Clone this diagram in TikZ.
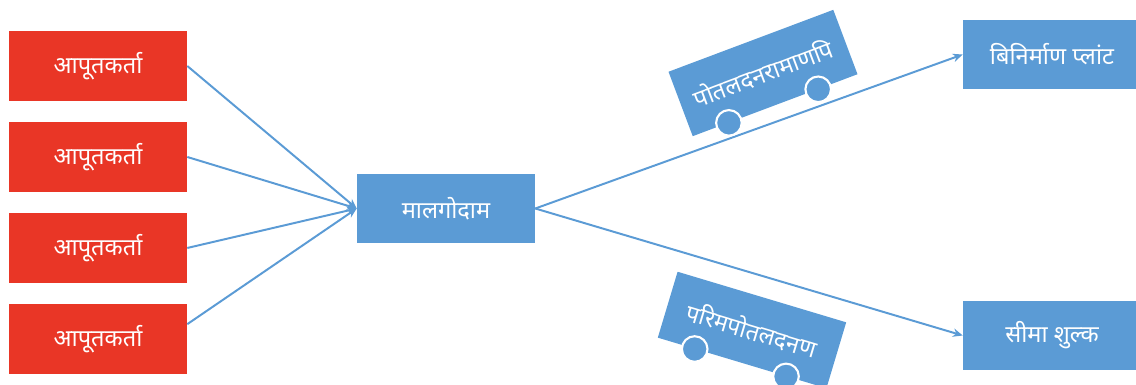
\documentclass[tikz,border=0pt]{standalone}
\usepackage{fontspec}
\newfontfamily\deva[Script=Devanagari]{Noto Sans}
\usetikzlibrary{positioning, calc, arrows.meta}
\definecolor{suppred}{RGB}{233,54,38}
\definecolor{flowblue}{RGB}{91,155,213}
\tikzset{
	supplier/.style={rectangle, fill=suppred, text=white, minimum width=4.45cm, minimum height=1.74cm, inner sep=0pt, font=\deva\fontsize{16.8}{20}\selectfont},
	depot/.style={supplier, fill=flowblue},
	truck/.style={depot, minimum width=4.4cm, minimum height=1.72cm},
	wheel/.style={circle, fill=flowblue, draw=white, line width=1.5pt, minimum size=0.64cm, inner sep=0pt},
	flow/.style={-{Stealth[length=7pt,width=6pt]}, draw=flowblue, line width=1.4pt}
}
\begin{document}
\begin{tikzpicture}[x=0.025cm, y=-0.025cm]
	\useasboundingbox (0,0) rectangle (1136,385);
	\node [supplier] (supplier1) at (98,66) {आपूतकर्ता};
	\node [supplier, below = 0.52cm of supplier1] (supplier2) {आपूतकर्ता};
	\node [supplier, below = 0.52cm of supplier2] (supplier3) {आपूतकर्ता};
	\node [supplier, below = 0.52cm of supplier3] (supplier4) {आपूतकर्ता};
	
	\node [depot] (warehouse) at (446,208.5) {मालगोदाम};
	\node [depot] (plant) at (1052,54.5) {बिनिर्माण प्लांट};
	\node [depot] (customs) at (1052,335.5) {सीमा शुल्क};
	
	\foreach \i in {1,2,3}
		\draw [flow] (supplier\i.east) -- (warehouse.west);
	\draw [flow] ([yshift=0.37cm]supplier4.east) -- (warehouse.west);
	\draw [flow] (warehouse.east) -- (plant.west);
	\draw [flow] (warehouse.east) -- (customs.west);
	
	\node [truck, rotate=20.6] (ship1) at (763,73) {पोतलदनरामाणपि};
	\node [wheel] (ship1w1) at ($(ship1.south west)!0.22!(ship1.south east)$) {};
	\node [wheel] (ship1w2) at ($(ship1.south west)!0.76!(ship1.south east)$) {};
	
	\node [truck, rotate=-16.7] (ship2) at (752,330) {परिमपोतलदनण};
	\node [wheel] (ship2w1) at ($(ship2.south west)!0.22!(ship2.south east)$) {};
	\node [wheel] (ship2w2) at ($(ship2.south west)!0.76!(ship2.south east)$) {};
\end{tikzpicture}
\end{document}
